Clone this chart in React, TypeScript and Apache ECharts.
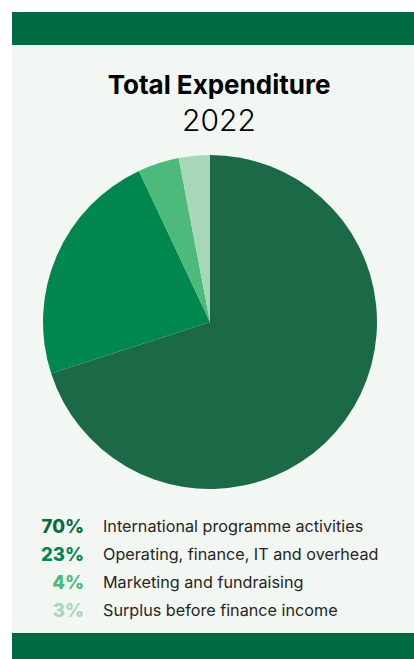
import React, { useEffect, useRef } from "react";
import * as echarts from "echarts";

const categories = [
  "International programme activities",
  "Operating, finance, IT and overhead",
  "Marketing and fundraising",
  "Surplus before finance income",
];
const values = [70, 23, 4, 3];
const colors = ["#1b6947", "#00874f", "#4db97b", "#a6d8b7"];
const textColors = ["#086a43", "#00874f", "#4db97b", "#a6d8b7"];
const titleText = "Total Expenditure";
const subtitleText = "2022";

export default function App() {
  const ref = useRef<HTMLDivElement>(null);
  useEffect(() => {
    document.body.style.margin = "0";
    const chart = echarts.init(ref.current!, null, { renderer: "svg" });
    const font = "Inter, 'Liberation Sans', sans-serif";
    const legendTop = 526;
    const gap = 28;
    const legendGraphics: any[] = [];
    categories.forEach((c, i) => {
      legendGraphics.push({
        type: "text",
        x: 84,
        y: legendTop + i * gap,
        style: {
          text: values[i] + "%",
          fill: textColors[i],
          font: `800 18.5px ${font}`,
          textAlign: "right",
          textVerticalAlign: "middle",
        },
      });
      legendGraphics.push({
        type: "text",
        x: 103,
        y: legendTop + i * gap,
        style: {
          text: c,
          fill: "#262626",
          font: `16.2px ${font}`,
          textAlign: "left",
          textVerticalAlign: "middle",
        },
      });
    });
    chart.setOption({
      animation: false,
      backgroundColor: "#ffffff",
      graphic: [
        { type: "rect", z: -10, shape: { x: 12, y: 12, width: 402, height: 647 }, style: { fill: "#f2f7f3" } },
        { type: "rect", z: -5, shape: { x: 12, y: 12, width: 402, height: 33 }, style: { fill: "#006a43" } },
        { type: "rect", z: -5, shape: { x: 12, y: 633, width: 402, height: 26 }, style: { fill: "#006a43" } },
        {
          type: "text",
          x: 219,
          y: 84,
          style: { text: titleText, fill: "#000", font: `bold 26px ${font}`, textAlign: "center", textVerticalAlign: "middle" },
        },
        {
          type: "text",
          x: 219,
          y: 120,
          style: { text: subtitleText, fill: "#000", font: `300 30px ${font}`, textAlign: "center", textVerticalAlign: "middle" },
        },
        ...legendGraphics,
      ],
      series: [
        {
          type: "pie",
          center: [210, 322],
          radius: 167,
          startAngle: 90,
          clockwise: true,
          label: { show: false },
          labelLine: { show: false },
          emphasis: { disabled: true },
          itemStyle: { borderWidth: 0 },
          data: categories.map((c, i) => ({ name: c, value: values[i], itemStyle: { color: colors[i] } })),
        },
      ],
    });
    return () => chart.dispose();
  }, []);
  return <div ref={ref} style={{ width: 414, height: 659 }} />;
}
